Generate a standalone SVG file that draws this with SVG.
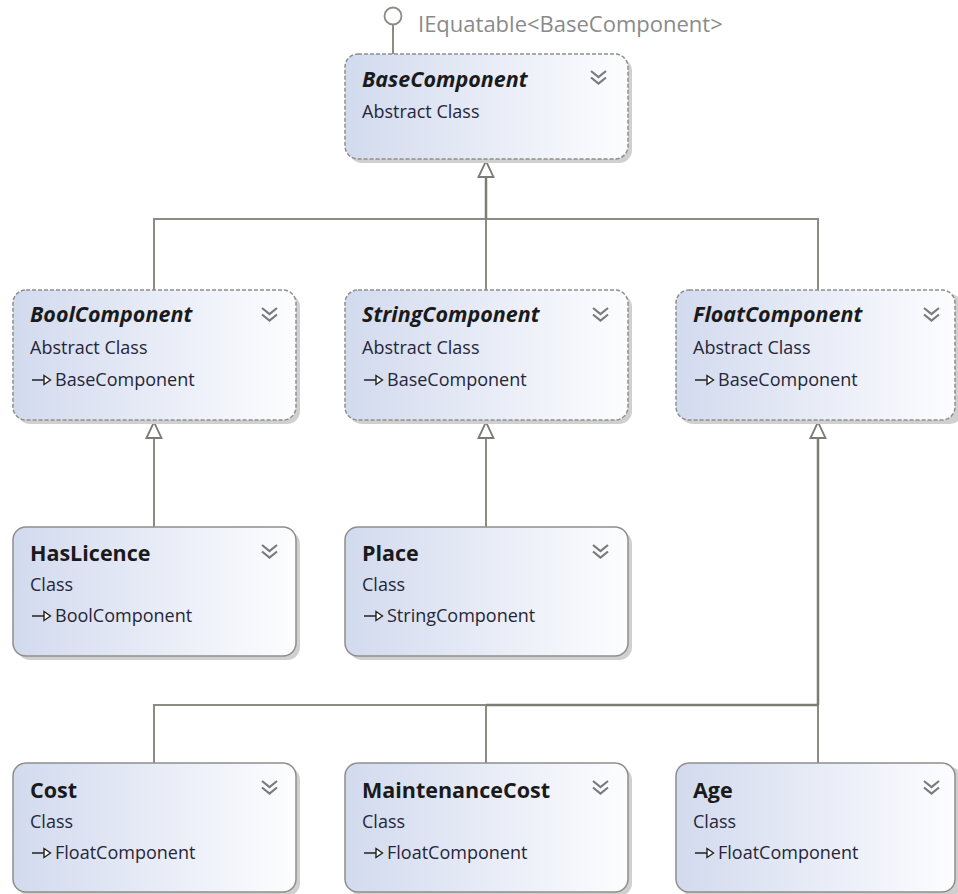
<svg xmlns="http://www.w3.org/2000/svg" width="958" height="894" viewBox="0 0 958 894">
  <defs>
    <linearGradient id="fill" x1="0" y1="0" x2="1" y2="0">
      <stop offset="0" stop-color="#d2daee"/>
      <stop offset="1" stop-color="#fdfdff"/>
    </linearGradient>
    <!-- hollow generalisation head; the line stops at its base -->
    <marker id="inherit" viewBox="0 0 18 18" refX="1" refY="9" markerWidth="18" markerHeight="18" markerUnits="userSpaceOnUse" orient="auto">
      <path d="M1 1.5 L17 9 L1 16.5 Z" fill="#ffffff" stroke="#7c7c74" stroke-width="1.8"/>
    </marker>
    <g id="chevrons">
      <path d="M0 0 L7.5 6 L15 0 M0 6.5 L7.5 12.5 L15 6.5" fill="none" stroke="#7a7a7a" stroke-width="2.2"/>
    </g>
    <g id="baseIcon">
      <path d="M0 0 H12" stroke="#222" stroke-width="1.5"/>
      <path d="M12 -4.5 L18.5 0 L12 4.5 Z" fill="#fff" stroke="#222" stroke-width="1.4"/>
    </g>
  </defs>
  <style>
    .shadow { fill: #d0d0d0; }
    .box { fill: url(#fill); stroke: #8e8e8a; stroke-width: 1.5; }
    .abstract { stroke-dasharray: 4 2; }
    .title { font-family: "Open Sans", "Noto Sans", sans-serif; font-weight: bold; font-size: 21.5px; fill: #1a1a1a; }
    .italic { font-style: italic; font-size: 21.5px; }
    .sub { font-family: "Open Sans", "Noto Sans", sans-serif; font-size: 18px; fill: #26263a; }
    .iface { font-family: "Open Sans", "Noto Sans", sans-serif; font-size: 22px; fill: #8a8a8a; }
    .conn { fill: none; stroke: #8c8c84; stroke-width: 2; }
    .trunk { fill: none; stroke: #7c7c74; stroke-width: 2.5; }
  </style>
  <rect width="958" height="894" fill="#ffffff"/>

  <!-- connectors -->
  <g id="connectors">
    <!-- interface lollipop -->
    <line x1="393" y1="25" x2="393" y2="54" class="conn"/>
    <circle cx="393" cy="16" r="8.5" fill="#ffffff" stroke="#8c8c84" stroke-width="1.8"/>
    <!-- BaseComponent hierarchy -->
    <path class="conn" d="M154 290 V219 H818 V290"/>
    <path class="trunk" d="M486 219 V177" marker-end="url(#inherit)"/>
    <path class="conn" d="M486 290 V219"/>
    <!-- BoolComponent / StringComponent -->
    <path class="conn" d="M154 527 V438" marker-end="url(#inherit)"/>
    <path class="conn" d="M486 527 V438" marker-end="url(#inherit)"/>
    <!-- FloatComponent hierarchy -->
    <path class="conn" d="M154 763 V705 H818 V763"/>
    <path class="conn" d="M486 763 V705"/>
    <path class="trunk" d="M486 705 H818"/>
    <path class="trunk" d="M818 705 V438" marker-end="url(#inherit)"/>
  </g>

  <text x="418" y="32" class="iface">IEquatable&lt;BaseComponent&gt;</text>

  <g id="BaseComponent">
    <rect x="349" y="58" width="283" height="105" rx="13" class="shadow"/>
    <rect x="345" y="54" width="283" height="105" rx="13" class="box abstract"/>
    <text x="362" y="87" class="title italic">BaseComponent</text>
    <text x="362" y="118" class="sub">Abstract Class</text>
    <use href="#chevrons" x="591" y="71"/>
  </g>

  <g id="BoolComponent">
    <rect x="17" y="294" width="283" height="130" rx="13" class="shadow"/>
    <rect x="13" y="290" width="283" height="130" rx="13" class="box abstract"/>
    <text x="30" y="322" class="title italic">BoolComponent</text>
    <text x="30" y="354" class="sub">Abstract Class</text>
    <use href="#baseIcon" x="32" y="380"/>
    <text x="55" y="386" class="sub">BaseComponent</text>
    <use href="#chevrons" x="262" y="308"/>
  </g>

  <g id="StringComponent">
    <rect x="349" y="294" width="283" height="130" rx="13" class="shadow"/>
    <rect x="345" y="290" width="283" height="130" rx="13" class="box abstract"/>
    <text x="362" y="322" class="title italic">StringComponent</text>
    <text x="362" y="354" class="sub">Abstract Class</text>
    <use href="#baseIcon" x="364" y="380"/>
    <text x="387" y="386" class="sub">BaseComponent</text>
    <use href="#chevrons" x="593" y="308"/>
  </g>

  <g id="FloatComponent">
    <rect x="680" y="294" width="283" height="130" rx="13" class="shadow"/>
    <rect x="676" y="290" width="279" height="130" rx="13" class="box abstract"/>
    <text x="693" y="322" class="title italic">FloatComponent</text>
    <text x="693" y="354" class="sub">Abstract Class</text>
    <use href="#baseIcon" x="695" y="380"/>
    <text x="718" y="386" class="sub">BaseComponent</text>
    <use href="#chevrons" x="924" y="308"/>
  </g>

  <g id="HasLicence">
    <rect x="17" y="531" width="283" height="129" rx="13" class="shadow"/>
    <rect x="13" y="527" width="283" height="129" rx="13" class="box"/>
    <text x="30" y="561" class="title">HasLicence</text>
    <text x="30" y="591" class="sub">Class</text>
    <use href="#baseIcon" x="32" y="616"/>
    <text x="55" y="622" class="sub">BoolComponent</text>
    <use href="#chevrons" x="262" y="545"/>
  </g>

  <g id="Place">
    <rect x="349" y="531" width="283" height="129" rx="13" class="shadow"/>
    <rect x="345" y="527" width="283" height="129" rx="13" class="box"/>
    <text x="362" y="561" class="title">Place</text>
    <text x="362" y="591" class="sub">Class</text>
    <use href="#baseIcon" x="364" y="616"/>
    <text x="387" y="622" class="sub">StringComponent</text>
    <use href="#chevrons" x="593" y="545"/>
  </g>

  <g id="Cost">
    <rect x="17" y="767" width="283" height="129" rx="13" class="shadow"/>
    <rect x="13" y="763" width="283" height="129" rx="13" class="box"/>
    <text x="30" y="798" class="title">Cost</text>
    <text x="30" y="828" class="sub">Class</text>
    <use href="#baseIcon" x="32" y="853"/>
    <text x="55" y="859" class="sub">FloatComponent</text>
    <use href="#chevrons" x="262" y="781"/>
  </g>

  <g id="MaintenanceCost">
    <rect x="349" y="767" width="283" height="129" rx="13" class="shadow"/>
    <rect x="345" y="763" width="283" height="129" rx="13" class="box"/>
    <text x="362" y="798" class="title">MaintenanceCost</text>
    <text x="362" y="828" class="sub">Class</text>
    <use href="#baseIcon" x="364" y="853"/>
    <text x="387" y="859" class="sub">FloatComponent</text>
    <use href="#chevrons" x="593" y="781"/>
  </g>

  <g id="Age">
    <rect x="680" y="767" width="283" height="129" rx="13" class="shadow"/>
    <rect x="676" y="763" width="279" height="129" rx="13" class="box"/>
    <text x="693" y="798" class="title">Age</text>
    <text x="693" y="828" class="sub">Class</text>
    <use href="#baseIcon" x="695" y="853"/>
    <text x="718" y="859" class="sub">FloatComponent</text>
    <use href="#chevrons" x="924" y="781"/>
  </g>
</svg>
